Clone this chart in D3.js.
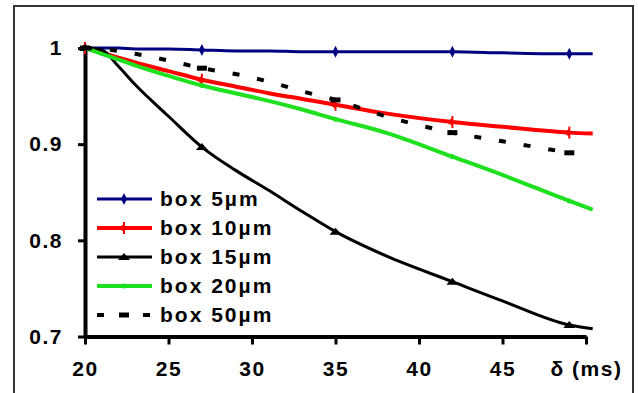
<!DOCTYPE html>
<html><head><meta charset="utf-8">
<script src="https://cdn.jsdelivr.net/npm/d3@7"></script>
<style>
html,body{margin:0;padding:0;background:#fff;}
svg{display:block;}
text{font-family:"Liberation Sans",Arial,sans-serif;font-weight:bold;fill:#000;}
</style></head>
<body>
<svg id="c" width="638" height="393"></svg>
<script>
// ---- data ----
const xVals = [20,21,22,23,25,27,29,31,33,35,38,42,45,49,50.4];
const box5  = [1.000,1.000,1.000,0.999,0.999,0.998,0.997,0.997,0.996,0.996,0.996,0.996,0.995,0.994,0.994];
const box10 = [1.000,0.995,0.990,0.985,0.976,0.967,0.960,0.953,0.947,0.941,0.932,0.923,0.918,0.912,0.911];
const box15 = [1.000,0.998,0.981,0.962,0.929,0.897,0.873,0.852,0.830,0.809,0.784,0.757,0.737,0.712,0.708];
const box20 = [1.000,0.994,0.988,0.982,0.971,0.961,0.953,0.945,0.936,0.926,0.912,0.887,0.868,0.841,0.832];
const box50 = [1.000,0.999,0.997,0.994,0.987,0.979,0.973,0.965,0.955,0.946,0.929,0.912,0.903,0.891,null];
const markerX = [20,27,35,42,49];
const seriesNames = ["box 5µm","box 10µm","box 15µm","box 20µm","box 50µm"];
const xTicks = [20,25,30,35,40,45,50];
const xTickLabels = ["20","25","30","35","40","45","δ (ms)"];
const yTicks = [0.7,0.8,0.9,1];
const yTickLabels = ["0.7","0.8","0.9","1"];

const series = [
  {name:seriesNames[0], vals:box5,  color:"#000080", w:3, sym:"diamond"},
  {name:seriesNames[1], vals:box10, color:"#ff0000", w:4, sym:"cross"},
  {name:seriesNames[2], vals:box15, color:"#000000", w:3, sym:"triangle"},
  {name:seriesNames[3], vals:box20, color:"#1ee01e", w:4, sym:"circle"},
  {name:seriesNames[4], vals:box50, color:"#000000", w:4, sym:"dash", dash:"7,18"}
];

const svg = d3.select("#c");
// frame
svg.append("rect").attr("x",14).attr("y",6).attr("width",619).attr("height",400)
  .attr("fill","none").attr("stroke","#333").attr("stroke-width",2);

const x = d3.scaleLinear().domain([20,50]).range([85,586]);
const y = d3.scaleLinear().domain([0.7,1]).range([336.5,48]);

const line = d3.line().defined(d=>d[1]!=null).x(d=>x(d[0])).y(d=>y(d[1])).curve(d3.curveMonotoneX);

function symbolPath(sym, size){
  const map = {diamond:d3.symbolDiamond, cross:d3.symbolCross, triangle:d3.symbolTriangle, circle:d3.symbolCircle, square:d3.symbolSquare};
  return d3.symbol().type(map[sym]).size(size)();
}

function drawMarker(g, sym, color, cx, cy){
  if(sym==="dash"){
    g.append("rect").attr("x",cx-5).attr("y",cy-2.5).attr("width",10).attr("height",5).attr("fill",color);
  } else if(sym==="diamond"){
    g.append("path").attr("d","M0,-6L3,0L0,6L-3,0Z").attr("transform",`translate(${cx},${cy})`).attr("fill",color);
  } else if(sym==="cross"){
    g.append("path").attr("d","M-6,0L0,-4L0,4Z").attr("transform",`translate(${cx},${cy})`).attr("fill",color);
    g.append("path").attr("d","M0,-6V6").attr("transform",`translate(${cx},${cy})`).attr("stroke",color).attr("stroke-width",2);
  } else if(sym==="triangle"){
    g.append("path").attr("d","M-6,3L6,3L0,-4Z").attr("transform",`translate(${cx},${cy})`).attr("fill",color);
  } else {
    g.append("path").attr("d",symbolPath(sym,20)).attr("transform",`translate(${cx},${cy})`).attr("fill",color);
  }
}

// axes
const yAxis = d3.axisLeft(y).tickValues(yTicks).tickSize(7).tickSizeOuter(0).tickPadding(15)
  .tickFormat((d,i)=>yTickLabels[i]);
const xAxis = d3.axisBottom(x).tickValues(xTicks).tickSize(8).tickSizeOuter(0).tickPadding(17)
  .tickFormat((d,i)=>xTickLabels[i]);

const gy = svg.append("g").attr("transform",`translate(${x(20)},0)`).call(yAxis);
const gx = svg.append("g").attr("transform",`translate(0,${y(0.7)})`).call(xAxis);
[gx,gy].forEach(g=>{
  g.select(".domain").attr("stroke","#000").attr("stroke-width",4);
  g.selectAll(".tick line").attr("stroke","#000").attr("stroke-width",3);
  g.selectAll(".tick text").attr("font-size",21).attr("font-family","'Liberation Sans',Arial,sans-serif")
    .attr("font-weight","bold").attr("letter-spacing","1.5px").attr("fill","#000");
});

// series
const gs = svg.append("g");
series.forEach(s=>{
  const pts = xVals.map((xv,i)=>[xv,s.vals[i]]);
  gs.append("path").datum(pts).attr("d",line).attr("fill","none")
    .attr("stroke",s.color).attr("stroke-width",s.w)
    .attr("stroke-dasharray",s.dash||null).attr("stroke-linejoin","round");
  const mg = gs.append("g");
  markerX.forEach(mx=>{
    const i = xVals.indexOf(mx);
    if(i>=0 && s.vals[i]!=null) drawMarker(mg, s.sym, s.color, x(mx), y(s.vals[i]));
  });
});

// legend
const lg = svg.append("g");
series.forEach((s,i)=>{
  const ly = 199 + i*29;
  const row = lg.append("g");
  row.append("line").attr("x1",97).attr("x2",152).attr("y1",ly).attr("y2",ly)
    .attr("stroke",s.color).attr("stroke-width",s.w)
    .attr("stroke-dasharray",s.dash?"7,16":null);
  drawMarker(row, s.sym, s.color, 124, ly);
  row.append("text").attr("x",160).attr("y",ly).attr("dy","0.35em")
    .attr("font-size",21).attr("letter-spacing","2px").text(s.name);
});
</script>
</body></html>
